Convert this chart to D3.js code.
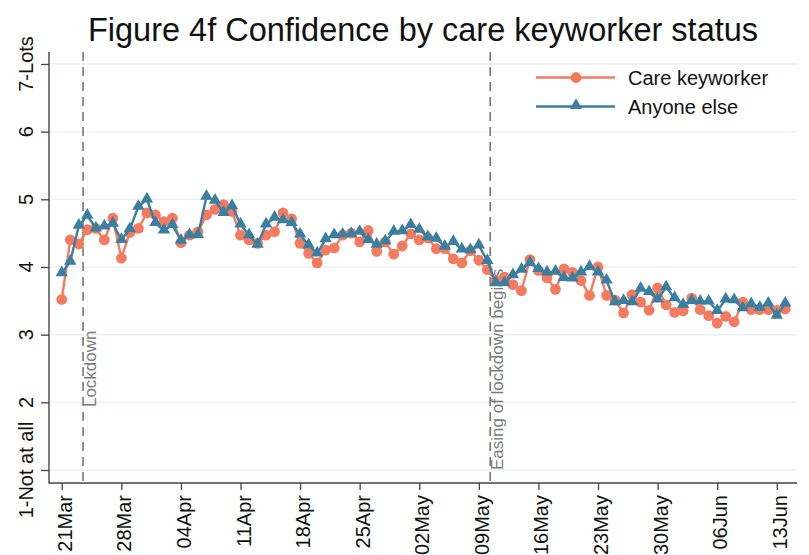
<!DOCTYPE html>
<html>
<head>
<meta charset="utf-8">
<script src="https://cdn.jsdelivr.net/npm/d3@7"></script>
<style>
  html, body { margin: 0; padding: 0; background: #fff; }
  svg { display: block; font-family: "Liberation Sans", Arial, sans-serif; }
</style>
</head>
<body>
<svg id="chart" width="809" height="555"></svg>
<script>
// ---- data ----
const startDay = "2020-03-21";
const endDay = "2020-06-15"; // exclusive
const careKeyworker = [
  3.52, 4.40, 4.34, 4.55, 4.57, 4.40, 4.72, 4.13, 4.51, 4.57,
  4.80, 4.77, 4.67, 4.72, 4.36, 4.47, 4.52, 4.77, 4.85, 4.92,
  4.82, 4.47, 4.40, 4.35, 4.47, 4.52, 4.80, 4.71, 4.35, 4.20,
  4.06, 4.25, 4.28, 4.47, 4.50, 4.37, 4.54, 4.23, 4.37, 4.19,
  4.31, 4.49, 4.40, 4.43, 4.27, 4.27, 4.12, 4.06, 4.24, 4.10,
  3.96, 3.80, 3.85, 3.74, 3.65, 4.11, 3.95, 3.84, 3.67, 3.97,
  3.92, 3.80, 3.58, 4.00, 3.58, 3.51, 3.32, 3.59, 3.48, 3.36,
  3.69, 3.44, 3.33, 3.35, 3.54, 3.37, 3.28, 3.17, 3.27, 3.19,
  3.48, 3.37, 3.37, 3.37, 3.36, 3.38
];
const anyoneElse = [
  3.91, 4.08, 4.61, 4.76, 4.57, 4.60, 4.64, 4.40, 4.56, 4.89,
  5.00, 4.65, 4.54, 4.62, 4.39, 4.47, 4.47, 5.04, 4.98, 4.80,
  4.90, 4.63, 4.47, 4.33, 4.63, 4.73, 4.69, 4.65, 4.48, 4.32,
  4.20, 4.41, 4.47, 4.48, 4.49, 4.52, 4.40, 4.33, 4.38, 4.52,
  4.53, 4.62, 4.55, 4.44, 4.42, 4.30, 4.37, 4.26, 4.25, 4.32,
  4.09, 3.76, 3.76, 3.88, 3.96, 4.06, 3.97, 3.92, 3.93, 3.84,
  3.83, 3.92, 4.00, 3.92, 3.80, 3.48, 3.50, 3.48, 3.68, 3.63,
  3.52, 3.70, 3.54, 3.44, 3.50, 3.49, 3.49, 3.35, 3.52, 3.51,
  3.39, 3.45, 3.40, 3.46, 3.28, 3.46
];
const seriesNames = ["Care keyworker", "Anyone else"];
const xTickDates = ["2020-03-21","2020-03-28","2020-04-04","2020-04-11","2020-04-18","2020-04-25","2020-05-02","2020-05-09","2020-05-16","2020-05-23","2020-05-30","2020-06-06","2020-06-13"];
const xTickLabels = ["21Mar","28Mar","04Apr","11Apr","18Apr","25Apr","02May","09May","16May","23May","30May","06Jun","13Jun"];
const yTickValues = [1, 2, 3, 4, 5, 6, 7];
const yTickLabels = ["1-Not at all", "2", "3", "4", "5", "6", "7-Lots"];
const eventDates = ["2020-03-23T12:00Z", "2020-05-10T08:00Z"];
const eventLabels = ["Lockdown", "Easing of lockdown begins"];
const eventLabelY = [1.93, 1.0];

// ---- layout ----
const svg = d3.select("#chart");
const pLeft = 49, pRight = 797, pTop = 52, pBottom = 483;
const colOrange = "#f47b60", colBlue = "#3b7fa0";

const parse = d3.utcParse("%Y-%m-%d");
const days = d3.utcDay.range(parse(startDay), parse(endDay));

const x = d3.scaleUtc()
  .domain([new Date(Date.UTC(2020, 2, 19, 12)), new Date(Date.UTC(2020, 5, 15, 9))])
  .range([pLeft, pRight]);
const y = d3.scaleLinear().domain([0.808, 7.177]).range([pBottom, pTop]);

// title
svg.append("text")
  .attr("x", 423).attr("y", 41)
  .attr("text-anchor", "middle")
  .attr("font-size", 32.5)
  .attr("fill", "#111")
  .text("Figure 4f Confidence by care keyworker status");

// gridlines
svg.append("g").selectAll("line").data(yTickValues).join("line")
  .attr("x1", pLeft).attr("x2", pRight)
  .attr("y1", d => y(d)).attr("y2", d => y(d))
  .attr("stroke", "#eaf1f4").attr("stroke-width", 1.5);

// event lines
const ev = svg.append("g");
eventDates.forEach((d, i) => {
  const xv = x(new Date(d));
  ev.append("line")
    .attr("x1", xv).attr("x2", xv).attr("y1", pTop).attr("y2", pBottom)
    .attr("stroke", "#777").attr("stroke-width", 1.6)
    .attr("stroke-dasharray", "9,6");
  ev.append("text")
    .attr("transform", `translate(${xv + 13},${y(eventLabelY[i])}) rotate(-90)`)
    .attr("font-size", 17)
    .attr("fill", "#7a7a7a")
    .attr("text-anchor", "start")
    .text(eventLabels[i]);
});

// axes
const yAxis = d3.axisLeft(y).tickValues(yTickValues).tickSize(8).tickFormat("");
const gy = svg.append("g").attr("transform", `translate(${pLeft},0)`).call(yAxis);
const xAxis = d3.axisBottom(x).tickValues(xTickDates.map(parse)).tickSize(7).tickFormat("");
const gx = svg.append("g").attr("transform", `translate(0,${pBottom})`).call(xAxis);
[gy, gx].forEach(g => {
  g.select(".domain").remove();
  g.selectAll(".tick line").attr("stroke", "#444").attr("stroke-width", 1.3);
});
svg.append("path")
  .attr("d", `M${pLeft},${pTop}V${pBottom}H${pRight}`)
  .attr("fill", "none").attr("stroke", "#444").attr("stroke-width", 1.4);

// y tick labels
svg.append("g").selectAll("text").data(yTickValues).join("text")
  .attr("transform", d => `translate(33,${y(d)}) rotate(-90)`)
  .attr("text-anchor", "middle")
  .attr("font-size", 20)
  .attr("fill", "#111")
  .text((d, i) => yTickLabels[i]);

// x tick labels
svg.append("g").selectAll("text").data(xTickDates).join("text")
  .attr("transform", d => `translate(${x(parse(d))},495) rotate(-90)`)
  .attr("text-anchor", "end")
  .attr("y", 10)
  .attr("font-size", 20)
  .attr("fill", "#111")
  .text((d, i) => xTickLabels[i]);

// series
const line = d3.line().x((d, i) => x(days[i])).y(d => y(d));
const triangle = d3.symbol().type(d3.symbolTriangle).size(66);

const gO = svg.append("g");
gO.append("path").datum(careKeyworker).attr("d", line)
  .attr("fill", "none").attr("stroke", colOrange).attr("stroke-width", 2.4);
gO.selectAll("circle").data(careKeyworker).join("circle")
  .attr("cx", (d, i) => x(days[i])).attr("cy", d => y(d)).attr("r", 5.4)
  .attr("fill", colOrange);

const gB = svg.append("g");
gB.append("path").datum(anyoneElse).attr("d", line)
  .attr("fill", "none").attr("stroke", colBlue).attr("stroke-width", 2.4);
gB.selectAll("path.sym").data(anyoneElse).join("path").attr("class", "sym")
  .attr("transform", (d, i) => `translate(${x(days[i])},${y(d) - 0.5})`)
  .attr("d", triangle)
  .attr("fill", colBlue);

// legend
const lg = svg.append("g");
const legendRows = [
  { name: seriesNames[0], color: colOrange, sym: "circle", yy: 77.5 },
  { name: seriesNames[1], color: colBlue, sym: "tri", yy: 106.5 }
];
legendRows.forEach(r => {
  lg.append("line").attr("x1", 536).attr("x2", 615).attr("y1", r.yy).attr("y2", r.yy)
    .attr("stroke", r.color).attr("stroke-width", 2.4);
  if (r.sym === "circle") {
    lg.append("circle").attr("cx", 576).attr("cy", r.yy).attr("r", 5.4).attr("fill", r.color);
  } else {
    lg.append("path").attr("transform", `translate(576,${r.yy - 1})`).attr("d", triangle).attr("fill", r.color);
  }
  lg.append("text").attr("x", 628).attr("y", r.yy).attr("dy", "0.35em")
    .attr("font-size", 20).attr("fill", "#111").text(r.name);
});
</script>
</body>
</html>
